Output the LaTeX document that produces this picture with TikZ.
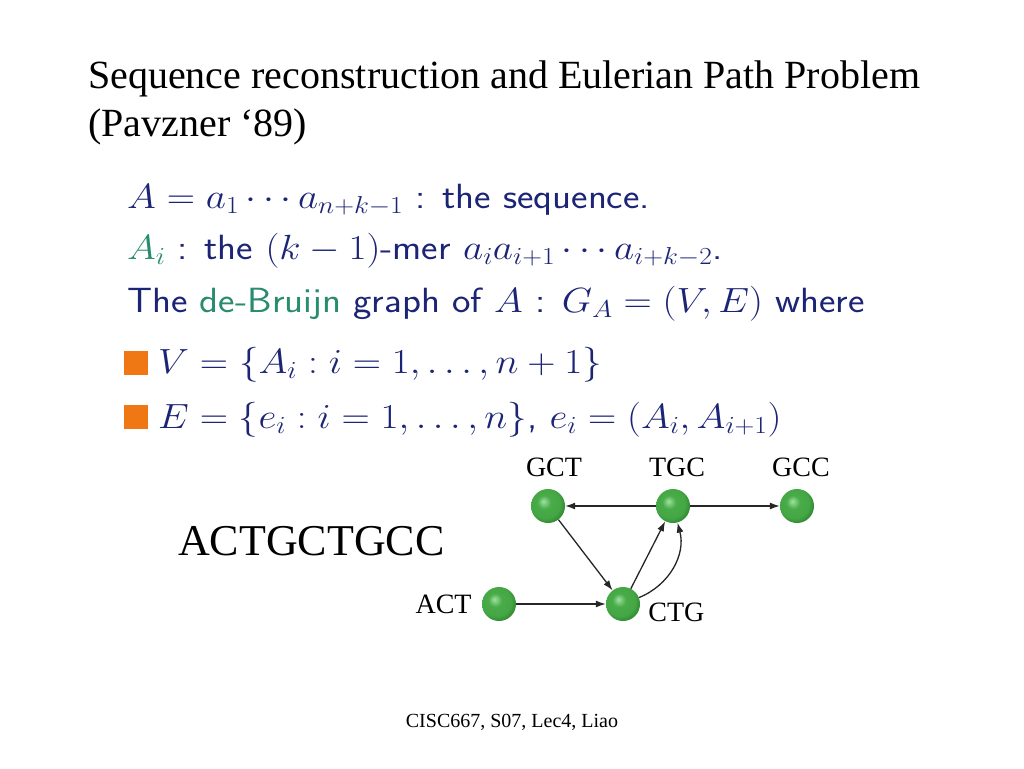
\documentclass[tikz,border=0pt]{standalone}
\usepackage{fix-cm}
\usepackage{graphicx}
\usepackage{fontspec}
\newfontfamily\timesfont{Liberation Serif}
\usepackage{tikz}
\usetikzlibrary{positioning, arrows.meta, shapes}
\definecolor{navy}{RGB}{28,36,118}
\definecolor{teal}{RGB}{40,140,110}
\definecolor{bulletorange}{RGB}{240,120,20}
\definecolor{ballhigh}{RGB}{160,225,160}
\definecolor{ballmid}{RGB}{72,172,72}
\definecolor{ballrim}{RGB}{45,130,45}
\pgfdeclareradialshading{greenball}{\pgfpoint{-7bp}{7bp}}{color(0bp)=(ballhigh); color(10bp)=(ballmid); color(22bp)=(ballmid!85!ballrim); color(30bp)=(ballrim); color(50bp)=(ballrim)}
\newcommand{\wide}[1]{\scalebox{1.12}[1]{#1}}
\tikzstyle{Ball} = [circle, minimum size=34pt, inner sep=0pt, shading=greenball]
\tikzstyle{Lbl} = [inner sep=0pt, font=\timesfont\fontsize{28}{30}\selectfont]
\tikzstyle{Line} = [inner sep=0pt, anchor=base west, text=navy, font=\fontsize{35}{40}\selectfont\sffamily]
\tikzstyle{Bullet} = [fill=bulletorange, minimum size=24pt, inner sep=0pt, anchor=south west]
\tikzstyle{Edge} = [line width=1.3pt, black!85, -{Latex[length=10pt,width=7pt]}]

\begin{document}
\begin{tikzpicture}[x=1pt, y=-1pt]
    \useasboundingbox[fill=white] (0,0) rectangle (1024,768);
    % title
    \node [inner sep=0pt, anchor=base west, align=left, font=\timesfont\fontsize{40}{48}\selectfont] (title) at (88,136)
        {Sequence reconstruction and Eulerian Path Problem\\(Pavzner ‘89)};
    % definitions
    \node [Line] (l1) at (127,208) {\wide{$A=a_1\cdots a_{n+k-1}$ : the sequence.}};
    \node [Line] (l2) at (127,259) {\wide{{\color{teal}$A_i$} : the $(k-1)$-mer $a_ia_{i+1}\cdots a_{i+k-2}$.}};
    \node [Line] (l3) at (127,312) {\wide{The {\color{teal}de-Bruijn} graph of $A$ : $G_A=(V,E)$ where}};
    \node [Bullet] (b1) at (124,375) {};
    \node [Bullet] (b2) at (124,429) {};
    \node [Line] (l4) at (158,373) {\wide{$V=\{A_i : i=1,\ldots,n+1\}$}};
    \node [Line] (l5) at (158,428) {\wide{$E=\{e_i : i=1,\ldots,n\}$, $e_i=(A_i,A_{i+1})$}};
    % sequence
    \node [inner sep=0pt, anchor=base west, font=\timesfont\fontsize{44}{48}\selectfont] (seq) at (178,555) {ACTGCTGCC};
    % graph
    \node [Ball] (GCT) at (548,506) {};
    \node [Ball] (TGC) at (673,506) {};
    \node [Ball] (GCC) at (797,506) {};
    \node [Ball] (ACT) at (499,604) {};
    \node [Ball] (CTG) at (623,604) {};
    \node [Lbl, above=12pt of GCT, xshift=6pt] (GCTl) {GCT};
    \node [Lbl, above=12pt of TGC, xshift=4pt] (TGCl) {TGC};
    \node [Lbl, above=12pt of GCC, xshift=4pt] (GCCl) {GCC};
    \node [Lbl, left=10pt of ACT] (ACTl) {ACT};
    \node [Lbl, right=8pt of CTG, yshift=-8pt] (CTGl) {CTG};
    \draw[Edge] (TGC) -- (GCT);
    \draw[Edge] (TGC) -- (GCC);
    \draw[Edge] (GCT) -- (CTG);
    \draw[Edge] (ACT) -- (CTG);
    \draw[Edge] (CTG) -- (TGC);
    \draw[Edge] (CTG) to[out=22, in=-75] (TGC);
    % footer
    \node [inner sep=0pt, anchor=base, font=\timesfont\fontsize{20}{24}\selectfont] (foot) at (512,727) {CISC667, S07, Lec4, Liao};
\end{tikzpicture}
\end{document}
